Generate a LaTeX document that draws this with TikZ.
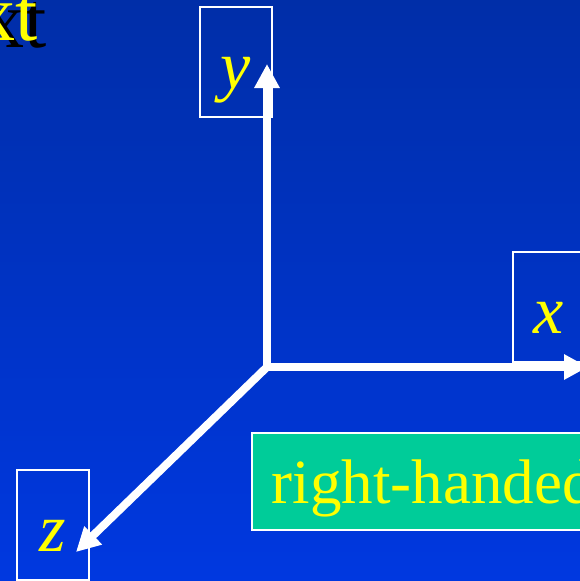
\documentclass[tikz,border=0pt]{standalone}
\usepackage{fontspec}
\setmainfont{Liberation Serif}
\usetikzlibrary{arrows.meta,positioning}
\definecolor{DeepBlue}{HTML}{002EA8}
\definecolor{BrightBlue}{HTML}{0038E0}
\definecolor{Mint}{HTML}{00CC99}
\definecolor{Lemon}{HTML}{FFFF00}

\tikzset{
  axis/.style={line width=8pt,white,-{Triangle[length=24pt,width=24pt]}},
  labelbox/.style={draw=white,line width=1.5pt,text=Lemon,inner sep=0pt,
    font=\fontsize{68}{72}\selectfont\itshape,
    minimum width=72pt,text height=81pt,text depth=29pt},
}

\begin{document}
\begin{tikzpicture}[x=1pt,y=-1pt]
  \shade[top color=DeepBlue,bottom color=BrightBlue] (0,0) rectangle (580,581);
  \useasboundingbox (0,0) rectangle (580,581);
  \clip (0,0) rectangle (580,581);

  % cut-off heading with its shadow
  \node[anchor=base east,inner sep=0pt,text=black,font=\fontsize{80}{84}\selectfont]
    (titleshadow) at (47,47) {xt};
  \node[anchor=base east,inner sep=0pt,text=Lemon,font=\fontsize{80}{84}\selectfont]
    (title) at (38,40) {xt};

  % axes
  \coordinate (O) at (267,367);
  \coordinate (ytip) at (267,64);
  \coordinate (xtip) at (588,367);
  \coordinate (ztip) at (76,552);
  \draw[axis] (O) -- (ytip);
  \draw[axis] (O) -- (xtip);
  \draw[axis] (O) -- (ztip);

  % axis names
  \node[labelbox] (ylab) at (236,62) {y};
  \node[labelbox] (xlab) at (549,307) {x};
  \node[labelbox] (zlab) at (53,525) {z};

  \node[anchor=west,draw=white,line width=1.5pt,fill=Mint,text=Lemon,
    inner xsep=20pt,inner ysep=0pt,minimum height=97pt,
    text height=48pt,text depth=5pt,font=\fontsize{63}{68}\selectfont]
    (hand) at (251,481.5) {right-handed};
\end{tikzpicture}
\end{document}
